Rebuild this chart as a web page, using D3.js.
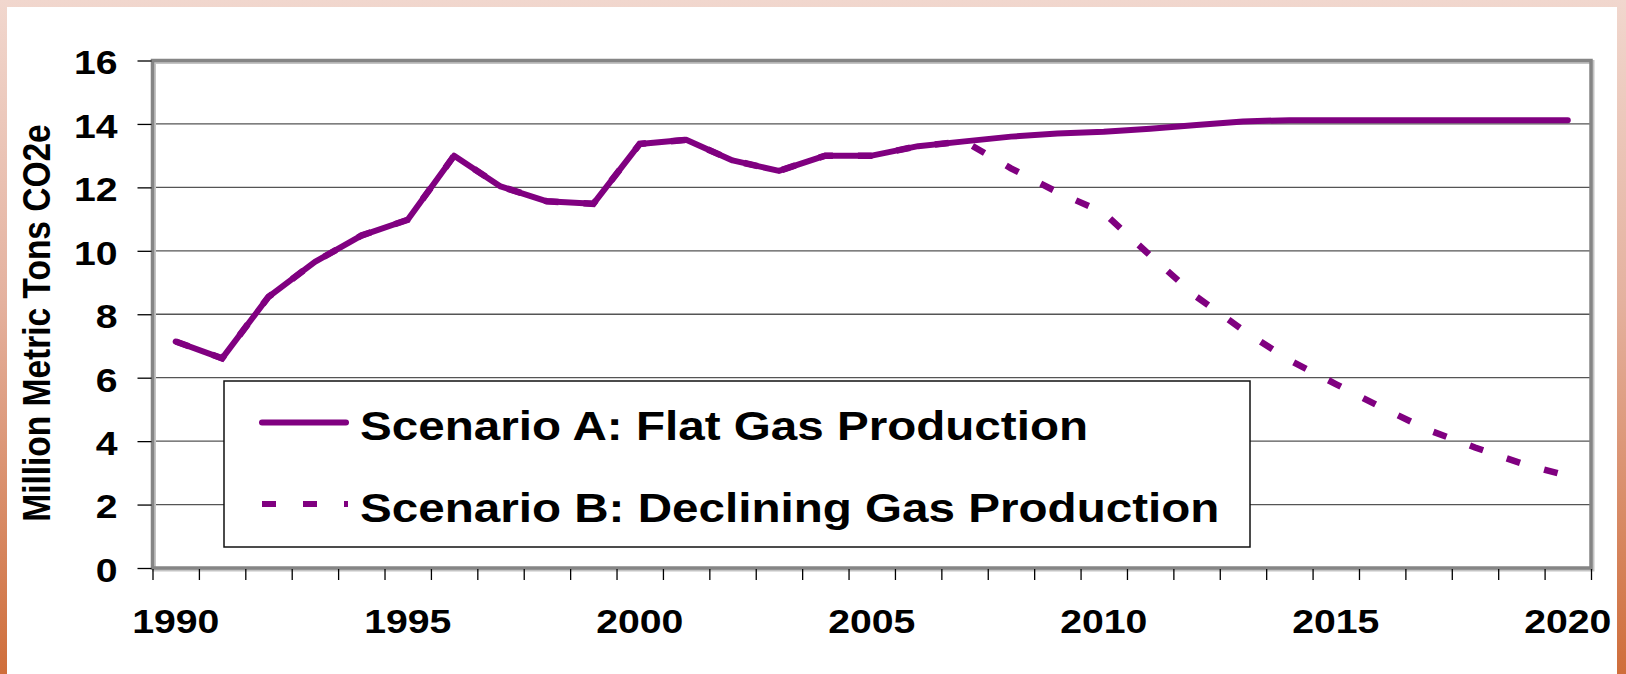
<!DOCTYPE html>
<html>
<head>
<meta charset="utf-8">
<script src="https://cdn.jsdelivr.net/npm/d3@7"></script>
<style>
    html, body { margin: 0; padding: 0; background: #fff; }
    svg { display: block; }
    text { font-family: "Liberation Sans", Arial, sans-serif; font-weight: bold; fill: #000; }
</style>
</head>
<body>
<svg id="chart"></svg>
<script>
let years = [1990, 1991, 1992, 1993, 1994, 1995, 1996, 1997, 1998, 1999,
    2000, 2001, 2002, 2003, 2004, 2005, 2006, 2007, 2008, 2009,
    2010, 2011, 2012, 2013, 2014, 2015, 2016, 2017, 2018, 2019, 2020];
let labelYears = [1990, 1995, 2000, 2005, 2010, 2015, 2020];
let yTicks = [0, 2, 4, 6, 8, 10, 12, 14, 16];

// Scenario A: flat gas production
let scenarioA = [7.14, 6.61, 8.55, 9.65, 10.48, 10.98, 13.0, 12.03, 11.56, 11.48,
    13.37, 13.5, 12.85, 12.52, 13.0, 13.0, 13.3, 13.45, 13.6, 13.7,
    13.75, 13.85, 13.97, 14.08, 14.12, 14.12, 14.12, 14.12, 14.12, 14.12, 14.12];
// Scenario B: declining gas production (same history up to 2007)
let scenarioB = [7.14, 6.61, 8.55, 9.65, 10.48, 10.98, 13.0, 12.03, 11.56, 11.48,
    13.37, 13.5, 12.85, 12.52, 13.0, 13.0, 13.3, 13.45, 12.6, 11.85,
    11.2, 9.85, 8.55, 7.5, 6.55, 5.8, 5.05, 4.35, 3.8, 3.3, 2.9];

let seriesNames = ["Scenario A: Flat Gas Production", "Scenario B: Declining Gas Production"];
let yTitle = "Million Metric Tons CO2e";

let W = 1626, H = 674;
let plot = {left: 152.5, right: 1591, top: 60.5, bottom: 568};
let purple = "#800080";
let stretch = 1.17;

let svg = d3.select("#chart").attr("width", W).attr("height", H);

// slide background: gradient frame + white card
let defs = svg.append("defs");
let grad = defs.append("linearGradient").attr("id", "bg")
    .attr("x1", 0).attr("y1", 0).attr("x2", 0).attr("y2", 1);
grad.append("stop").attr("offset", "0%").attr("stop-color", "#f1d7ce");
grad.append("stop").attr("offset", "45%").attr("stop-color", "#e4b19e");
grad.append("stop").attr("offset", "100%").attr("stop-color", "#cf6e3b");
svg.append("rect").attr("width", W).attr("height", H).attr("fill", "url(#bg)");
svg.append("rect").attr("x", 7).attr("y", 7).attr("width", 1610).attr("height", H - 7).attr("fill", "#fff");

let x = d3.scaleBand()
    .domain(years)
    .range([plot.left, plot.right])
    .padding(0);
let xEdge = d3.scaleLinear()
    .domain([years[0], years[years.length - 1] + 1])
    .range([plot.left, plot.right]);
let y = d3.scaleLinear()
    .domain([0, 16])
    .range([plot.bottom, plot.top]);

// gridlines
svg.append("g")
    .selectAll("line")
    .data(yTicks.slice(1, -1))
    .enter().append("line")
    .attr("x1", plot.left).attr("x2", plot.right)
    .attr("y1", d => y(d)).attr("y2", d => y(d))
    .attr("stroke", "#555")
    .attr("stroke-width", 1.3);

// plot area border (with a little shadow like the original)
svg.append("rect")
    .attr("x", plot.left + 1.5).attr("y", plot.top + 1.5)
    .attr("width", plot.right - plot.left).attr("height", plot.bottom - plot.top)
    .attr("fill", "none").attr("stroke", "#c4c4c4").attr("stroke-width", 4);
svg.append("rect")
    .attr("x", plot.left).attr("y", plot.top)
    .attr("width", plot.right - plot.left).attr("height", plot.bottom - plot.top)
    .attr("fill", "none").attr("stroke", "#858585").attr("stroke-width", 3.5);

// y axis
let yAxis = svg.append("g")
    .attr("transform", "translate(" + (plot.left - 1) + ",0)")
    .call(d3.axisLeft(y).tickValues(yTicks).tickSize(14).tickSizeOuter(0));
yAxis.select(".domain").remove();
yAxis.selectAll("line").attr("stroke", "#000").attr("stroke-width", 1.3);
yAxis.selectAll("text")
    .attr("x", null)
    .attr("dy", "0.37em")
    .attr("transform", "translate(-34,1) scale(" + stretch + ",1)")
    .style("font-size", "33.5px")
    .style("text-anchor", "end");

// x axis: ticks on category edges, labels every 5 years in the middle
let xAxis = svg.append("g")
    .attr("transform", "translate(0," + (plot.bottom + 1) + ")")
    .call(d3.axisBottom(xEdge)
        .tickValues(years.concat([years[years.length - 1] + 1]))
        .tickSize(11).tickSizeOuter(0).tickFormat(""));
xAxis.select(".domain").remove();
xAxis.selectAll("line").attr("stroke", "#000").attr("stroke-width", 1.3);

svg.append("g")
    .selectAll("text")
    .data(labelYears)
    .enter().append("text")
    .attr("transform", d => "translate(" + (x(d) + x.bandwidth() / 2) + ",633) scale(" + stretch + ",1)")
    .style("font-size", "33.5px")
    .style("text-anchor", "middle")
    .text(d => d);

// y axis title
svg.append("text")
    .attr("transform", "translate(50,323) scale(" + stretch + ",1) rotate(-90)")
    .style("font-size", "33.5px")
    .style("text-anchor", "middle")
    .text(yTitle);

// lines
let line = d3.line()
    .x((d, i) => x(years[i]) + x.bandwidth() / 2)
    .y(d => y(d));

svg.append("path")
    .datum(scenarioB)
    .attr("d", line)
    .attr("fill", "none")
    .attr("stroke", purple)
    .attr("stroke-width", 6.5)
    .attr("stroke-dasharray", "14,25");

svg.append("path")
    .datum(scenarioA)
    .attr("d", line)
    .attr("fill", "none")
    .attr("stroke", purple)
    .attr("stroke-width", 6)
    .attr("stroke-linejoin", "round")
    .attr("stroke-linecap", "round");

// legend
let legend = svg.append("g");
legend.append("rect")
    .attr("x", 224).attr("y", 381)
    .attr("width", 1026).attr("height", 166)
    .attr("fill", "#fff")
    .attr("stroke", "#111")
    .attr("stroke-width", 1.5);

let legendRows = [
    {name: seriesNames[0], ly: 422.5, ty: 439.5, dash: null},
    {name: seriesNames[1], ly: 504, ty: 521.5, dash: "14,27"}
];
let rows = legend.selectAll(".row")
    .data(legendRows)
    .enter().append("g")
    .attr("class", "row");
rows.append("line")
    .attr("x1", 262).attr("x2", d => d.dash ? 348 : 346)
    .attr("y1", d => d.ly).attr("y2", d => d.ly)
    .attr("stroke", purple)
    .attr("stroke-width", 6)
    .attr("stroke-linecap", d => d.dash ? "butt" : "round")
    .attr("stroke-dasharray", d => d.dash);
rows.append("text")
    .attr("transform", d => "translate(360," + d.ty + ") scale(1.19,1)")
    .style("font-size", "40px")
    .text(d => d.name);
</script>
</body>
</html>
